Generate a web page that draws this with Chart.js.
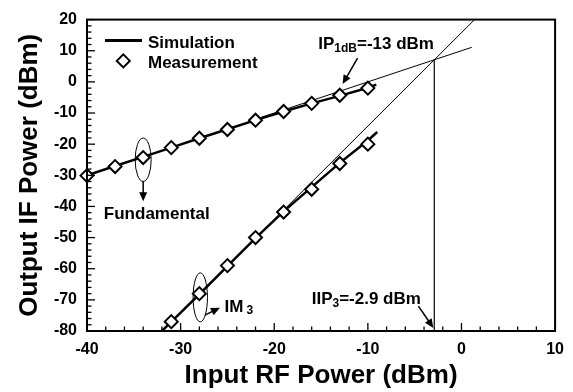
<!DOCTYPE html>
<html><head><meta charset="utf-8">
<script src="https://cdn.jsdelivr.net/npm/chart.js@4.4.0/dist/chart.umd.min.js"></script>
<style>html,body{margin:0;padding:0;background:#fff;}#wrap{width:573px;height:392px;}</style>
</head><body><div id="wrap"><canvas id="c" width="573" height="392"></canvas></div>
<script>
const FONT = '"Liberation Sans", Arial, Helvetica, sans-serif';

// ---- data ----
const fundX      = [-40, -37, -34, -31, -28, -25, -22, -19, -16, -13, -10];
const fundMeas   = [-30.1, -27.2, -24.3, -21.1, -18.1, -15.3, -12.3, -9.5, -6.9, -4.3, -2.0];
const fundSimX   = [-40, -37, -34, -31, -28, -25, -22, -19, -16, -13, -10, -9.1];
const fundSim    = [-30.0, -27.0, -24.1, -21.1, -18.1, -15.2, -12.3, -9.5, -6.9, -4.5, -1.9, -0.9];
const im3X       = [-31, -28, -25, -22, -19, -16, -13, -10];
const im3Meas    = [-77.0, -68.0, -59.0, -50.0, -41.8, -34.5, -26.2, -20.0];
const im3SimX    = [-32, -31, -28, -25, -22, -19, -16, -13, -10, -9];
const im3Sim     = [-80, -77.1, -68.2, -59.2, -50.2, -41.6, -33.8, -26.0, -18.8, -16.1];
const fundExtX   = [-22, 1.1];
const fundExt    = [-12.0, 11.1];
const im3ExtX    = [-25, 1.4];
const im3Ext     = [-59.2, 20];
const iip3X      = [-2.9, -2.9];
const iip3Y      = [7.1, -80];
const xTicks     = [-40, -30, -20, -10, 0, 10];
const yTicks     = [-80, -70, -60, -50, -40, -30, -20, -10, 0, 10, 20];

const pts = (xs, ys) => xs.map((x, i) => ({x, y: ys[i]}));

// annotation anchors (data units)
const ann = {
  fundEllipse: {x: -34, y: -25.0},
  fundArrow: [{x: -34, y: -31.9}, {x: -34, y: -38.3}],
  fundText: {x: -38.2, y: -44.1},
  im3Ellipse: {x: -27.9, y: -69.2},
  im3Arrow: [{x: -27.4, y: -74.9}, {x: -25.8, y: -72.5}],
  im3Text: {x: -25.3, y: -73.85},
  ip1Text: {x: -15.3, y: 10.5},
  ip1Arrow: [{x: -11.1, y: 7.6}, {x: -12.7, y: -0.7}],
  iip3Text: {x: -16.0, y: -71.2},
  iip3Arrow: [{x: -4.6, y: -72.0}, {x: -3.0, y: -79.0}]
};

function arrow(ctx, x1, y1, x2, y2, len, w) {
  const a = Math.atan2(y2 - y1, x2 - x1);
  ctx.beginPath(); ctx.moveTo(x1, y1);
  ctx.lineTo(x2 - Math.cos(a) * len * 0.8, y2 - Math.sin(a) * len * 0.8); ctx.stroke();
  ctx.beginPath();
  ctx.moveTo(x2, y2);
  ctx.lineTo(x2 - Math.cos(a) * len + Math.sin(a) * w, y2 - Math.sin(a) * len - Math.cos(a) * w);
  ctx.lineTo(x2 - Math.cos(a) * len - Math.sin(a) * w, y2 - Math.sin(a) * len + Math.cos(a) * w);
  ctx.closePath(); ctx.fill();
}

function subText(ctx, x, y, parts) {
  let cx = x;
  parts.forEach(p => {
    ctx.font = 'bold ' + p.size + 'px ' + FONT;
    ctx.fillText(p.t, cx, y + (p.dy || 0));
    cx += ctx.measureText(p.t).width + (p.gap || 0);
  });
}

const deco = {
  id: 'deco',
  afterDraw(chart) {
    const ctx = chart.ctx, xs = chart.scales.x, ys = chart.scales.y, a = chart.chartArea;
    const X = v => xs.getPixelForValue(v), Y = v => ys.getPixelForValue(v);
    ctx.save();
    ctx.strokeStyle = '#000'; ctx.fillStyle = '#000';
    // frame
    ctx.lineWidth = 2;
    ctx.strokeRect(a.left, a.top, a.right - a.left, a.bottom - a.top);
    // ticks
    ctx.lineWidth = 1.3;
    for (let v = -40; v <= 10; v += 2) {
      const L = (v % 10 === 0) ? 8 : 4.5;
      ctx.beginPath(); ctx.moveTo(X(v), a.bottom); ctx.lineTo(X(v), a.bottom - L); ctx.stroke();
    }
    for (let v = -80; v <= 20; v += 2) {
      const L = (v % 10 === 0) ? 8 : 4.5;
      ctx.beginPath(); ctx.moveTo(a.left, Y(v)); ctx.lineTo(a.left + L, Y(v)); ctx.stroke();
    }
    // ellipses
    ctx.lineWidth = 1;
    ctx.beginPath(); ctx.ellipse(X(ann.fundEllipse.x), Y(ann.fundEllipse.y), 8, 21.7, 0, 0, Math.PI * 2); ctx.stroke();
    ctx.beginPath(); ctx.ellipse(X(ann.im3Ellipse.x), Y(ann.im3Ellipse.y), 7.2, 24.5, 0, 0, Math.PI * 2); ctx.stroke();
    // arrows
    ctx.lineWidth = 1.5;
    [ann.fundArrow, ann.im3Arrow, ann.ip1Arrow, ann.iip3Arrow].forEach(p => {
      arrow(ctx, X(p[0].x), Y(p[0].y), X(p[1].x), Y(p[1].y), 9, 4);
    });
    // texts
    ctx.textBaseline = 'alphabetic'; ctx.textAlign = 'left';
    subText(ctx, X(ann.fundText.x), Y(ann.fundText.y), [{t: 'Fundamental', size: 17}]);
    subText(ctx, X(ann.im3Text.x), Y(ann.im3Text.y), [{t: 'IM', size: 17, gap: 3}, {t: '3', size: 12, dy: 2}]);
    subText(ctx, X(ann.ip1Text.x), Y(ann.ip1Text.y), [{t: 'IP', size: 17}, {t: '1dB', size: 12, dy: 3}, {t: '=-13 dBm', size: 17}]);
    subText(ctx, X(ann.iip3Text.x), Y(ann.iip3Text.y), [{t: 'IIP', size: 17}, {t: '3', size: 12, dy: 3}, {t: '=-2.9 dBm', size: 17}]);
    // legend
    ctx.lineWidth = 3;
    ctx.beginPath(); ctx.moveTo(a.left + 18, a.top + 21); ctx.lineTo(a.left + 55, a.top + 21); ctx.stroke();
    ctx.lineWidth = 2; ctx.fillStyle = '#fff';
    const dx = a.left + 36.3, dy = a.top + 41.3, r = 6.5;
    ctx.beginPath(); ctx.moveTo(dx - r, dy); ctx.lineTo(dx, dy - r); ctx.lineTo(dx + r, dy); ctx.lineTo(dx, dy + r); ctx.closePath();
    ctx.fill(); ctx.stroke();
    ctx.fillStyle = '#000';
    subText(ctx, a.left + 61, a.top + 28.7, [{t: 'Simulation', size: 17}]);
    subText(ctx, a.left + 61, a.top + 48.7, [{t: 'Measurement', size: 17}]);
    ctx.restore();
  }
};

const lineDs = (label, xs, ys, w, col, order) => ({
  label, data: pts(xs, ys), showLine: true, borderColor: col, borderWidth: w,
  pointRadius: 0, fill: false, order, tension: 0
});
const markDs = (label, xs, ys) => ({
  label, data: pts(xs, ys), showLine: false, pointStyle: 'rectRot', pointRadius: 6.5,
  pointBorderWidth: 2, pointBackgroundColor: '#fff', pointBorderColor: '#000', order: 0, clip: false
});

const tickFont = {family: FONT, size: 16, weight: 'bold'};
new Chart(document.getElementById('c'), {
  type: 'scatter',
  data: {
    datasets: [
      markDs('Measurement (Fundamental)', fundX, fundMeas),
      markDs('Measurement (IM3)', im3X, im3Meas),
      lineDs('Simulation (Fundamental)', fundSimX, fundSim, 2.5, '#000', 1),
      lineDs('Simulation (IM3)', im3SimX, im3Sim, 2.5, '#000', 1),
      lineDs('Fundamental extrapolation', fundExtX, fundExt, 1, '#000', 2),
      lineDs('IM3 extrapolation', im3ExtX, im3Ext, 1, '#000', 2),
      lineDs('IIP3', iip3X, iip3Y, 1.4, '#222', 2)
    ]
  },
  options: {
    responsive: false, animation: false, devicePixelRatio: 1,
    layout: {padding: {top: 17, right: 14, bottom: 0, left: 0}},
    plugins: {legend: {display: false}, tooltip: {enabled: false}},
    scales: {
      x: {
        type: 'linear', min: -40, max: 10,
        afterBuildTicks: s => { s.ticks = xTicks.map(v => ({value: v})); },
        afterFit: s => { s.height = 61; },
        grid: {display: false, drawTicks: false}, border: {display: false},
        ticks: {font: tickFont, color: '#000', padding: 9, maxRotation: 0, autoSkip: false},
        title: {display: true, text: 'Input RF Power (dBm)', color: '#000',
                font: {family: FONT, size: 26, weight: 'bold'}, padding: {top: 0, bottom: 1}}
      },
      y: {
        type: 'linear', min: -80, max: 20,
        afterBuildTicks: s => { s.ticks = yTicks.map(v => ({value: v})); },
        afterFit: s => { s.width = 87; },
        grid: {display: false, drawTicks: false}, border: {display: false},
        ticks: {font: tickFont, color: '#000', padding: 10, autoSkip: false},
        title: {display: true, text: 'Output IF Power (dBm)', color: '#000',
                font: {family: FONT, size: 26, weight: 'bold'}, padding: {top: 14, bottom: 0}}
      }
    }
  },
  plugins: [deco]
});
</script></body></html>
